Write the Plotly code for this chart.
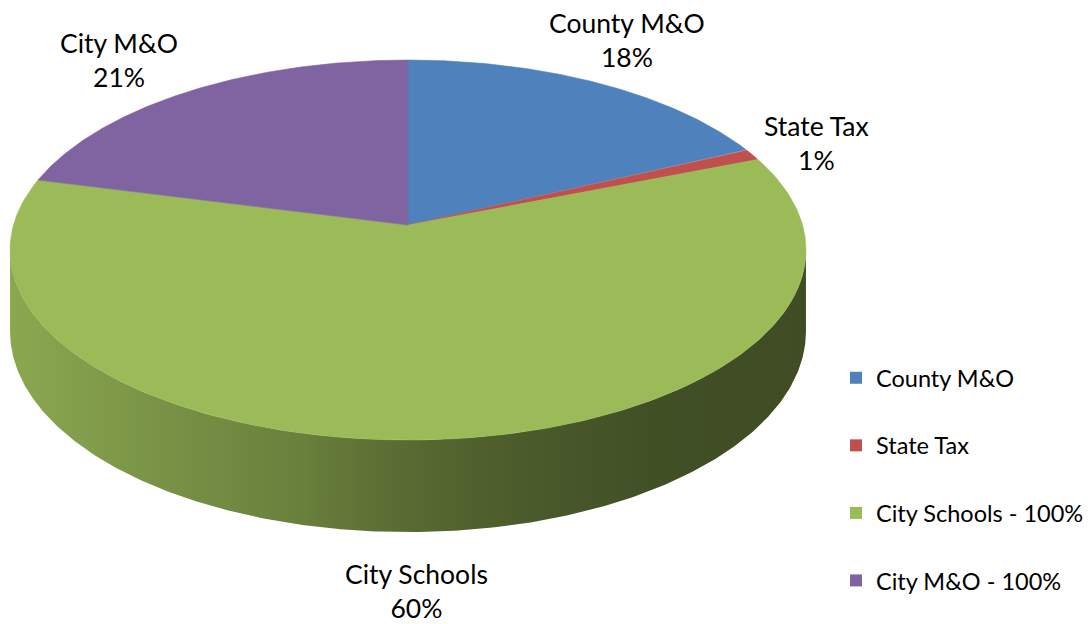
import numpy as np
import plotly.graph_objects as go

# ---- data ----
slice_labels = ["County M&O", "State Tax", "City Schools", "City M&O"]
legend_names = ["County M&O", "State Tax", "City Schools - 100%", "City M&O - 100%"]
values = [18, 1, 60, 21]
pct_text = ["18%", "1%", "60%", "21%"]
colors = ["#4F81BD", "#C0504D", "#9BBB59", "#8064A2"]

# ---- geometry / style (pixel-like data space) ----
W, H = 1092, 624
CX, CY = 408.0, 225.0        # apex of the pie (top face)
A, B = 394.5, 186.7          # radii before perspective
K = 0.1316                   # perspective factor
D = 80.0                     # side depth
FONT = "Lato, 'Open Sans', sans-serif"
label_pos = [(627, 40), (816, 143), (416, 591), (119, 60)]


def proj(theta, drop=0.0):
    s = 1.0 / (1.0 + K * np.cos(theta))
    x = CX + A * np.sin(theta) * s
    y = CY - B * np.cos(theta) * s + drop * s
    return x, y


def shade(hexcol, f):
    r, g, b = int(hexcol[1:3], 16), int(hexcol[3:5], 16), int(hexcol[5:7], 16)
    return "rgb(%d,%d,%d)" % (r * f, g * f, b * f)


total = float(sum(values))
bounds = np.concatenate([[0], np.cumsum(values)]) / total * 2 * np.pi

fig = go.Figure()

# visible front wall range
t_right = np.arccos(-K)
t_left = 2 * np.pi - t_right
x_min = proj(t_left)[0]
x_max = proj(t_right)[0]

# side walls
for i in range(len(values)):
    a0, a1 = bounds[i], bounds[i + 1]
    t0, t1 = max(a0, t_right), min(a1, t_left)
    if t1 <= t0:
        continue
    th = np.linspace(t0, t1, 300)
    xt, yt = proj(th)
    xb, yb = proj(th[::-1], D)
    xs = np.concatenate([xt, xb, xt[:1]])
    ys = np.concatenate([yt, yb, yt[:1]])
    c = colors[i]
    fig.add_trace(go.Scatter(
        x=xs, y=ys, mode="lines", fill="toself",
        line=dict(width=0, color=shade(c, 0.5)),
        fillgradient=dict(
            type="horizontal",
            start=x_min, stop=x_max,
            colorscale=[[0.0, shade(c, 0.90)], [0.2, shade(c, 0.78)],
                        [0.37, shade(c, 0.68)], [0.49, shade(c, 0.58)],
                        [0.62, shade(c, 0.50)], [0.80, shade(c, 0.43)],
                        [1.0, shade(c, 0.41)]]),
        hoverinfo="skip", showlegend=False))

# top face slices
for i in range(len(values)):
    th = np.linspace(bounds[i], bounds[i + 1], 200)
    xa, ya = proj(th)
    xs = np.concatenate([[CX], xa, [CX]])
    ys = np.concatenate([[CY], ya, [CY]])
    fig.add_trace(go.Scatter(
        x=xs, y=ys, mode="lines", fill="toself",
        fillcolor=colors[i], line=dict(width=0.6, color=colors[i]),
        name=slice_labels[i], hoverinfo="name", showlegend=False))

# legend entries
for i in range(len(values)):
    fig.add_trace(go.Scatter(
        x=[None], y=[None], mode="markers", name=legend_names[i],
        marker=dict(symbol="square", size=13, color=colors[i]),
        legendgroup=legend_names[i], showlegend=True))

# data labels
for i in range(len(values)):
    lx, ly = label_pos[i]
    fig.add_annotation(x=lx, y=ly, xref="x", yref="y",
                       text=slice_labels[i] + "<br>" + pct_text[i],
                       showarrow=False, align="center",
                       font=dict(family=FONT, size=26.5, color="#000000"))

fig.update_layout(
    width=W, height=H,
    margin=dict(l=0, r=0, t=0, b=0),
    paper_bgcolor="white", plot_bgcolor="white",
    xaxis=dict(range=[0, W], visible=False, fixedrange=True),
    yaxis=dict(range=[H, 0], visible=False, fixedrange=True),
    legend=dict(x=836 / W, y=1 - 356 / H, xanchor="left", yanchor="top",
                font=dict(family=FONT, size=23.5, color="#000000"),
                tracegroupgap=34, bgcolor="rgba(0,0,0,0)",
                itemsizing="constant"),
    showlegend=True,
)

fig.write_html("out.html",
               config={"displayModeBar": False},
               post_script="document.body.style.margin='0';"
                           "document.body.style.overflow='hidden';")
